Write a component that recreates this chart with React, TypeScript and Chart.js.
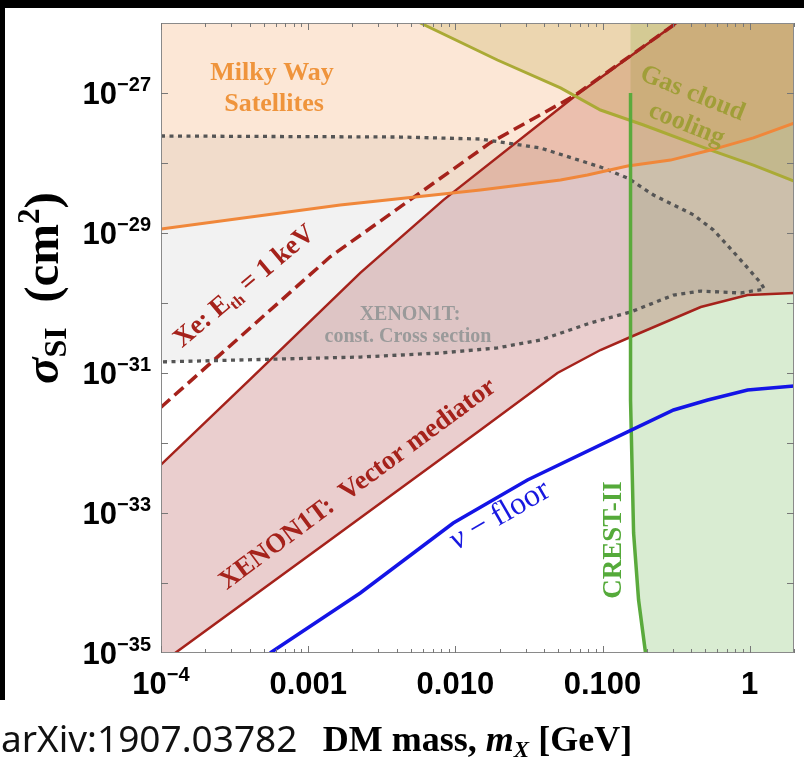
import React, { useEffect, useRef } from 'react';
import { Chart, registerables } from 'chart.js';

Chart.register(...registerables);

// ---------- axis ranges ----------
const X_MIN = 1e-4;
const X_MAX = 2;
const Y_MIN = 1e-35;
const Y_MAX = 1e-26;

// ---------- tick labels ----------
const xTickValues = [1e-4, 1e-3, 1e-2, 0.1, 1];
const xTickBase = ['10', '0.001', '0.010', '0.100', '1'];
const xTickSup = ['−4', '', '', '', ''];
const yTickValues = [1e-27, 1e-29, 1e-31, 1e-33, 1e-35];
const yTickSup = ['−27', '−29', '−31', '−33', '−35'];

// ---------- data (mass in GeV, sigma in cm^2) ----------
// Milky Way satellites bound (orange)
const mwMass = [1e-4, 1.65e-3, 1.48e-2, 5.18e-2, 7.9e-2, 0.148, 0.29, 0.543, 1.06, 2.0];
const mwSigma = [1.14e-29, 2.51e-29, 4.11e-29, 5.71e-29, 6.75e-29, 9.06e-29, 1.1e-28, 1.53e-28, 2.28e-28, 3.72e-28];

// Gas cloud cooling bound (olive)
const gasMass = [5.78e-3, 1.93e-2, 5.18e-2, 9.68e-2, 0.19, 0.543, 1.06, 2.0];
const gasSigma = [1e-26, 2.96e-27, 1.18e-27, 5.71e-28, 3.49e-28, 1.53e-28, 9.35e-29, 5.53e-29];

// XENON1T vector mediator: upper edge (solid)
const xeUpperMass = [1e-4, 4.03e-4, 2.26e-3, 8.28e-3, 6.35e-2, 0.318];
const xeUpperSigma = [4.9e-33, 8.13e-32, 2.69e-30, 2.95e-29, 8.71e-28, 1e-26];

// XENON1T vector mediator: lower edge (solid)
const xeLowerMass = [1.19e-4, 1.35e-3, 1.48e-2, 4.94e-2, 9.68e-2, 0.155, 0.465, 0.968, 2.0];
const xeLowerSigma = [9.3e-36, 3.85e-34, 1.53e-32, 1e-31, 2.13e-31, 3.27e-31, 8.77e-31, 1.3e-30, 1.39e-30];

// Xe: Eth = 1 keV (dashed)
const xe1keVMass = [1e-4, 1.41e-3, 1.73e-2, 6.35e-2, 0.318];
const xe1keVSigma = [3.24e-32, 4.57e-30, 1.95e-28, 9.0e-28, 1e-26];

// XENON1T constant cross section region (dotted contour)
const constMass = [1e-4, 4.23e-3, 1.48e-2, 3.78e-2, 9.68e-2, 0.148, 0.222, 0.416, 0.569, 0.869, 1.19, 1.26,
  0.869, 0.465, 0.304, 0.155, 8.28e-2, 3.78e-2, 1.93e-2, 7.91e-3, 2.26e-3, 1e-4];
const constSigma = [2.43e-28, 2.35e-28, 2.2e-28, 1.64e-28, 8.77e-29, 6.11e-29, 3.49e-29, 1.81e-29, 1.1e-29, 4.11e-30, 1.93e-30, 1.58e-30,
  1.39e-30, 1.48e-30, 1.3e-30, 7.43e-31, 5.18e-31, 2.96e-31, 2.28e-31, 1.93e-31, 1.69e-31, 1.44e-31];

// CREST-II (green)
const crestMass = [0.155, 0.155, 0.1626, 0.1758, 0.196];
const crestSigma = [1e-27, 4.11e-32, 5.18e-34, 5.71e-35, 1e-35];

// neutrino floor (blue)
const nuMass = [5.51e-4, 2.26e-3, 9.68e-3, 3.09e-2, 0.148, 0.304, 0.518, 0.968, 2.0];
const nuSigma = [1e-35, 7.2e-35, 7.2e-34, 2.96e-33, 1.44e-32, 2.96e-32, 4.11e-32, 5.71e-32, 6.52e-32];

// ---------- helpers ----------
type P = { x: number; y: number };
const pts = (xs: number[], ys: number[]): P[] => xs.map((x, i) => ({ x, y: ys[i] }));

const serifB = (px: number) => `bold ${px}px "Liberation Serif", "DejaVu Serif", serif`;
const serifBI = (px: number) => `italic bold ${px}px "Liberation Serif", "DejaVu Serif", serif`;
const serifI = (px: number) => `italic ${px}px "Liberation Serif", "DejaVu Serif", serif`;
const serifR = (px: number) => `${px}px "Liberation Serif", "DejaVu Serif", serif`;
const sansB = (px: number) => `bold ${px}px "Liberation Sans", Arial, sans-serif`;

type Run = { t: string; f: string; dy?: number };
function drawRuns(ctx: CanvasRenderingContext2D, runs: Run[], x: number, y: number, angle: number,
  align: 'left' | 'center' | 'right', color: string) {
  ctx.save();
  ctx.translate(x, y);
  ctx.rotate((angle * Math.PI) / 180);
  ctx.fillStyle = color;
  ctx.textBaseline = 'alphabetic';
  ctx.textAlign = 'left';
  let total = 0;
  const widths = runs.map((r) => {
    ctx.font = r.f;
    const w = ctx.measureText(r.t).width;
    total += w;
    return w;
  });
  let cx = align === 'left' ? 0 : align === 'center' ? -total / 2 : -total;
  runs.forEach((r, i) => {
    ctx.font = r.f;
    ctx.fillText(r.t, cx, r.dy || 0);
    cx += widths[i];
  });
  ctx.restore();
}

const RED = '#A5221B';

const decorPlugin = {
  id: 'decor',
  beforeDraw(chart: any) {
    const ctx = chart.ctx as CanvasRenderingContext2D;
    ctx.save();
    ctx.fillStyle = '#ffffff';
    ctx.fillRect(0, 0, chart.width, chart.height);
    ctx.fillStyle = '#000000';
    ctx.fillRect(0, 0, chart.width, 8);
    ctx.fillRect(0, 0, 5, 700);
    ctx.restore();
  },
  afterDraw(chart: any) {
    const ctx = chart.ctx as CanvasRenderingContext2D;
    const { left, right, top, bottom } = chart.chartArea;
    const xs = chart.scales.x;
    const ys = chart.scales.y;

    ctx.save();
    // frame
    ctx.strokeStyle = '#8a8a8a';
    ctx.lineWidth = 1;
    ctx.strokeRect(left + 0.5, top + 0.5, right - left - 1, bottom - top - 1);

    // x ticks (inside, top and bottom)
    ctx.strokeStyle = '#777';
    ctx.beginPath();
    for (let d = -4; d <= 0; d++) {
      for (let k = 1; k <= 9; k++) {
        const v = k * Math.pow(10, d);
        if (v > X_MAX) break;
        const px = Math.round(xs.getPixelForValue(v)) + 0.5;
        const len = k === 1 ? 7 : 4;
        ctx.moveTo(px, bottom);
        ctx.lineTo(px, bottom - len);
        ctx.moveTo(px, top);
        ctx.lineTo(px, top + len);
      }
    }
    // y ticks (every decade, left and right)
    for (let e = -34; e <= -27; e++) {
      const py = Math.round(ys.getPixelForValue(Math.pow(10, e))) + 0.5;
      ctx.moveTo(left, py);
      ctx.lineTo(left + 7, py);
      ctx.moveTo(right, py);
      ctx.lineTo(right - 7, py);
    }
    ctx.stroke();

    // y tick labels
    yTickValues.forEach((v, i) => {
      const py = ys.getPixelForValue(v);
      drawRuns(ctx, [
        { t: '10', f: sansB(31) },
        { t: yTickSup[i], f: sansB(20), dy: -13 },
      ], 151, py + 11, 0, 'right', '#000');
    });
    // x tick labels
    xTickValues.forEach((v, i) => {
      const px = xs.getPixelForValue(v);
      const runs: Run[] = [{ t: xTickBase[i], f: sansB(31) }];
      if (xTickSup[i]) runs.push({ t: xTickSup[i], f: sansB(20), dy: -13 });
      drawRuns(ctx, runs, px, 694, 0, 'center', '#000');
    });

    // axis titles
    drawRuns(ctx, [
      { t: 'DM mass, ', f: serifB(36) },
      { t: 'm', f: serifBI(36) },
      { t: 'X', f: serifBI(23), dy: 6 },
      { t: ' [GeV]', f: serifB(36) },
    ], (left + right) / 2, 751, 0, 'center', '#000');

    drawRuns(ctx, [
      { t: 'σ', f: serifBI(49) },
      { t: 'SI', f: serifB(32), dy: 8 },
      { t: '  (cm', f: serifB(49) },
      { t: '2', f: serifB(31), dy: -19 },
      { t: ')', f: serifB(49) },
    ], 58, 288, -90, 'center', '#000');

    // source
    ctx.font = '37px "Noto Sans", "Open Sans", sans-serif';
    ctx.fillStyle = '#111';
    ctx.textAlign = 'left';
    ctx.textBaseline = 'alphabetic';
    ctx.fillText('arXiv:1907.03782', 1, 752);

    // region labels
    drawRuns(ctx, [{ t: 'Milky Way', f: serifB(26) }], 272, 80, 0, 'center', '#EF943C');
    drawRuns(ctx, [{ t: 'Satellites', f: serifB(26) }], 274, 111, 0, 'center', '#EF943C');

    drawRuns(ctx, [{ t: 'Gas cloud', f: serifB(26) }], 690, 100, 22, 'center', '#A09E38');
    drawRuns(ctx, [{ t: 'cooling', f: serifB(26) }], 684, 131, 22, 'center', '#A09E38');

    drawRuns(ctx, [{ t: 'XENON1T:', f: serifB(20) }], 410, 320, 0, 'center', '#9A9A9A');
    drawRuns(ctx, [{ t: 'const. Cross section', f: serifB(20) }], 408, 342, 0, 'center', '#9A9A9A');

    drawRuns(ctx, [
      { t: 'Xe: E', f: serifB(27) },
      { t: 'th', f: serifB(16), dy: 5 },
      { t: ' = 1 keV', f: serifB(27) },
    ], 249, 292, -40, 'center', RED);

    drawRuns(ctx, [{ t: 'XENON1T:  Vector mediator', f: serifB(27) }], 362, 490, -36.5, 'center', RED);

    drawRuns(ctx, [
      { t: 'ν', f: serifI(32) },
      { t: ' − floor', f: serifR(32) },
    ], 504, 523, -30, 'center', '#1818E0');

    drawRuns(ctx, [{ t: 'CREST-II', f: serifB(27) }], 621, 540, -90, 'center', '#55AA3A');

    ctx.restore();
  },
};

export default function App() {
  const ref = useRef<HTMLCanvasElement | null>(null);

  useEffect(() => {
    if (!ref.current) return;
    const mw = pts(mwMass, mwSigma);
    const gas = pts(gasMass, gasSigma);
    const xeUp = pts(xeUpperMass, xeUpperSigma);
    const xeLo = pts(xeLowerMass, xeLowerSigma);
    const xe1 = pts(xe1keVMass, xe1keVSigma);
    const cs = pts(constMass, constSigma);
    const crest = pts(crestMass, crestSigma);
    const nu = pts(nuMass, nuSigma);

    const poly = (data: P[], color: string) => ({
      data,
      showLine: true,
      pointRadius: 0,
      borderWidth: 0,
      borderColor: 'transparent',
      backgroundColor: color,
      fill: 'shape',
      tension: 0,
    });
    const line = (data: P[], color: string, width: number, dash: number[] = []) => ({
      data,
      showLine: true,
      pointRadius: 0,
      borderWidth: width,
      borderColor: color,
      borderDash: dash,
      borderCapStyle: 'butt',
      fill: false,
      tension: 0,
    });

    const datasets: any[] = [
      // lines (drawn on top)
      line(nu, '#1414E6', 3.5),
      line(crest, '#5AAA3C', 3.5),
      line(mw, '#F0873A', 3),
      line(gas, '#AAAA35', 3),
      line(cs, '#555555', 3.3, [4, 4.5]),
      line(xe1, RED, 3.5, [12, 6]),
      line(xeUp, RED, 2.5),
      line(xeLo, RED, 2.5),
      // shaded regions
      poly([...mw, { x: X_MAX, y: Y_MAX }, { x: X_MIN, y: Y_MAX }], 'rgba(240,135,50,0.2)'),
      poly([...gas, { x: X_MAX, y: Y_MAX }], 'rgba(165,160,40,0.22)'),
      poly(cs, 'rgba(110,110,110,0.09)'),
      poly([{ x: X_MIN, y: Y_MIN }, ...xeLo, { x: X_MAX, y: Y_MAX }, ...xeUp.slice().reverse()], 'rgba(165,42,42,0.23)'),
      poly([{ x: crest[0].x, y: Y_MAX }, ...crest, { x: X_MAX, y: Y_MIN }, { x: X_MAX, y: Y_MAX }], 'rgba(80,170,50,0.22)'),
    ];

    const chart = new Chart(ref.current, {
      type: 'scatter',
      data: { datasets },
      options: {
        animation: false,
        responsive: false,
        events: [],
        layout: { padding: { top: 23, right: 10, left: 0, bottom: 0 } },
        plugins: {
          legend: { display: false },
          tooltip: { enabled: false },
          filler: { drawTime: 'beforeDatasetsDraw' },
        },
        scales: {
          x: {
            type: 'logarithmic',
            min: X_MIN,
            max: X_MAX,
            bounds: 'data',
            grid: { display: false },
            border: { display: false },
            ticks: { display: false },
            afterFit: (s: any) => { s.height = 104; },
          },
          y: {
            type: 'logarithmic',
            min: Y_MIN,
            max: Y_MAX,
            bounds: 'data',
            grid: { display: false },
            border: { display: false },
            ticks: { display: false },
            afterFit: (s: any) => { s.width = 161; },
          },
        },
      } as any,
      plugins: [decorPlugin],
    });
    return () => chart.destroy();
  }, []);

  return (
    <div style={{ position: 'fixed', left: 0, top: 0, width: 804, height: 757, background: '#fff' }}>
      <canvas ref={ref} width={804} height={757} style={{ display: 'block' }} />
    </div>
  );
}
